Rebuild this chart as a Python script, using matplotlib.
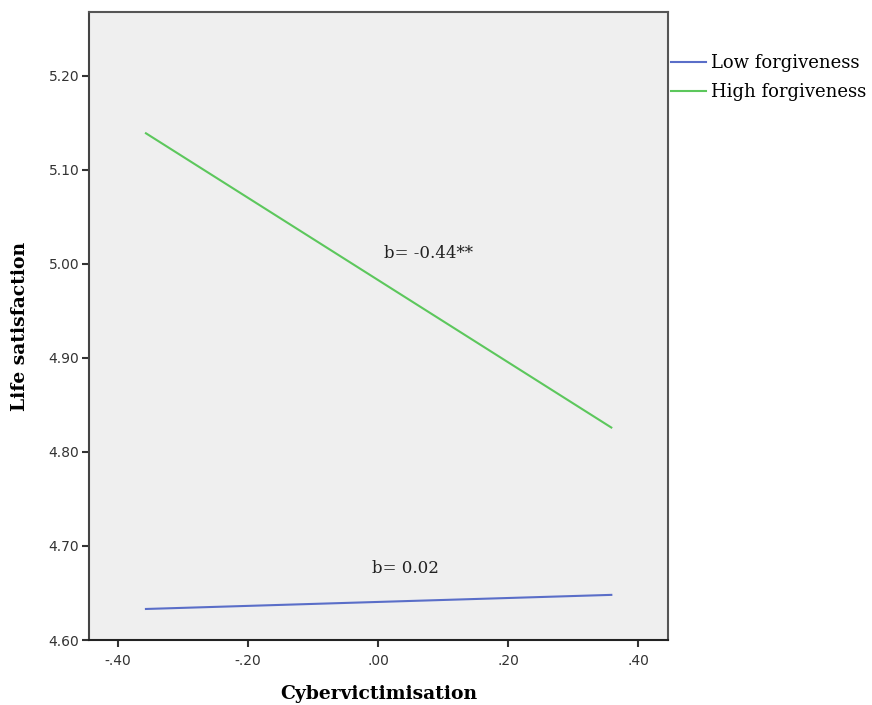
import matplotlib
matplotlib.use("Agg")
import matplotlib.pyplot as plt

x_vals = [-0.357, 0.359]
low_forgiveness = [4.633, 4.648]
high_forgiveness = [5.139, 4.826]
series_names = ["Low forgiveness", "High forgiveness"]
x_ticks = [-0.40, -0.20, 0.00, 0.20, 0.40]
x_tick_labels = ["-.40", "-.20", ".00", ".20", ".40"]
y_ticks = [4.60, 4.70, 4.80, 4.90, 5.00, 5.10, 5.20]
y_tick_labels = ["4.60", "4.70", "4.80", "4.90", "5.00", "5.10", "5.20"]
annotations = [("b= -0.44**", 0.078, 5.011), ("b= 0.02", 0.043, 4.676)]

serif = ["DejaVu Serif"]

fig = plt.figure(figsize=(8.72, 7.05), dpi=100)
ax = fig.add_axes([89/872, 1 - 640/705, (668-89)/872, (640-12)/705])
ax.set_facecolor("#efefef")

ax.plot(x_vals, low_forgiveness, color="#5a6ec8", lw=1.5, label=series_names[0])
ax.plot(x_vals, high_forgiveness, color="#5cc75c", lw=1.5, label=series_names[1])

for txt, xx, yy in annotations:
    ax.text(xx, yy, txt, ha="center", va="center", fontsize=12, family=serif, color="#222222")

ax.set_xlim(-0.4446, 0.4462)
ax.set_ylim(4.60, 5.268)
ax.set_xticks(x_ticks)
ax.set_xticklabels(x_tick_labels)
ax.set_yticks(y_ticks)
ax.set_yticklabels(y_tick_labels)
ax.tick_params(axis="both", length=5, width=1.5, color="#333333", labelsize=10, labelcolor="#333333")
ax.tick_params(axis="x", pad=5)
ax.tick_params(axis="y", pad=2)
for s in ax.spines.values():
    s.set_color("#555555")
    s.set_linewidth(1.5)
ax.spines["bottom"].set_color("#222222")
ax.spines["left"].set_color("#444444")

ax.set_xlabel("Cybervictimisation", fontsize=13.5, fontweight="bold", family=serif, labelpad=12)
ax.set_ylabel("Life satisfaction", fontsize=13.5, fontweight="bold", family=serif, labelpad=14)

leg = ax.legend(loc="upper left", bbox_to_anchor=(1.0, 0.937), frameon=False,
                prop={"family": serif, "size": 13}, handlelength=1.95, handletextpad=0.28,
                labelspacing=0.6, borderaxespad=0.0, borderpad=0.15)

fig.savefig("out.png", dpi=100)
